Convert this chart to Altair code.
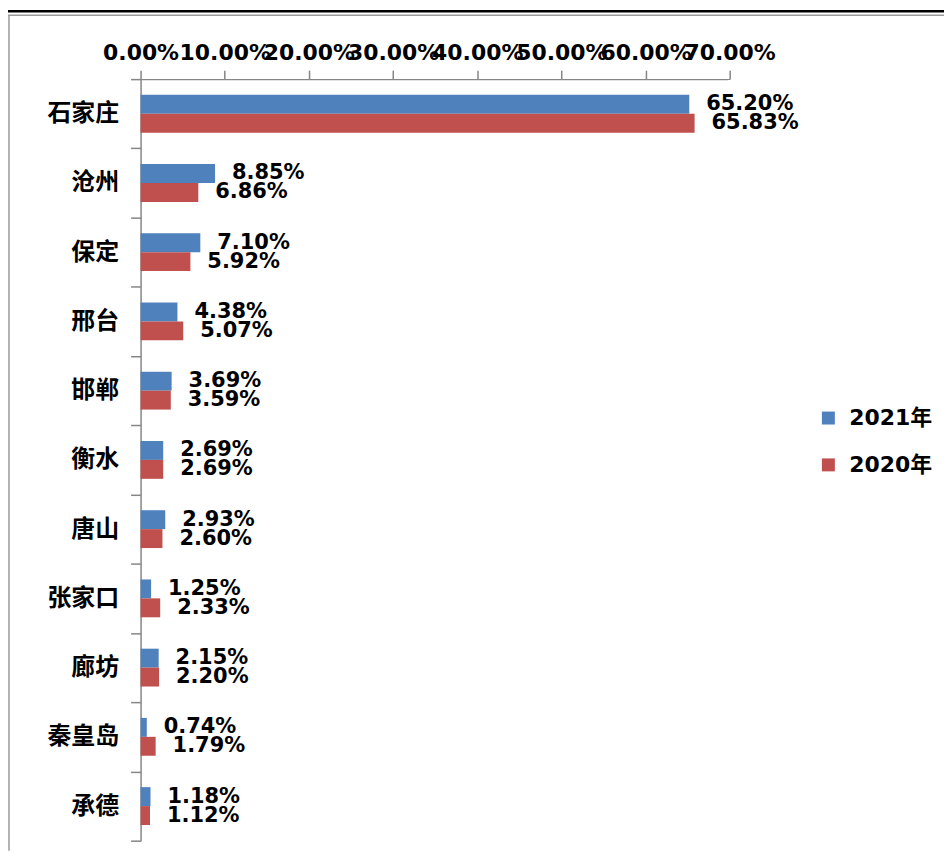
import altair as alt
import pandas as pd

cities = ["石家庄", "沧州", "保定", "邢台", "邯郸", "衡水", "唐山", "张家口", "廊坊", "秦皇岛", "承德"]
v2021 = [65.20, 8.85, 7.10, 4.38, 3.69, 2.69, 2.93, 1.25, 2.15, 0.74, 1.18]
v2020 = [65.83, 6.86, 5.92, 5.07, 3.59, 2.69, 2.60, 2.33, 2.20, 1.79, 1.12]
series = ["2021年", "2020年"]
colors = ["#4F81BD", "#C0504D"]
x_ticks = [0, 10, 20, 30, 40, 50, 60, 70]

rows = []
for c, a, b in zip(cities, v2021, v2020):
    rows.append({"city": c, "series": series[0], "value": a})
    rows.append({"city": c, "series": series[1], "value": b})
df = pd.DataFrame(rows)

NUM_FONT = "DejaVu Sans"
CJK_FONT = "Noto Sans CJK SC"
AXIS_GRAY = "#868686"

base = alt.Chart(df).encode(
    y=alt.Y(
        "city:N",
        sort=cities,
        title=None,
        scale=alt.Scale(paddingInner=0, paddingOuter=0),
        axis=alt.Axis(
            tickBand="extent",
            labelFont=CJK_FONT,
            labelFontSize=24,
            labelFontWeight="bold",
            labelColor="#000000",
            labelPadding=12,
            tickSize=10,
            tickColor=AXIS_GRAY,
            tickWidth=1.5,
            domainColor=AXIS_GRAY,
            domainWidth=1.5,
            grid=False,
        ),
    ),
    yOffset=alt.YOffset(
        "series:N",
        sort=series,
        scale=alt.Scale(paddingInner=0, paddingOuter=0.83),
    ),
)

x_axis = alt.Axis(
    orient="top",
    values=x_ticks,
    labelExpr="format(datum.value / 100, '.2%')",
    labelFont=NUM_FONT,
    labelFontSize=22,
    labelFontWeight="bold",
    labelColor="#000000",
    labelOverlap=False,
    labelFlush=False,
    labelPadding=6,
    tickSize=9,
    tickColor=AXIS_GRAY,
    tickWidth=1.5,
    domainColor=AXIS_GRAY,
    domainWidth=1.5,
    grid=False,
)
x_scale = alt.Scale(domain=[0, 70], nice=False, zero=True)

bars = base.mark_bar().encode(
    x=alt.X("value:Q", title=None, scale=x_scale, axis=x_axis),
    color=alt.Color(
        "series:N",
        sort=series,
        scale=alt.Scale(domain=series, range=colors),
        legend=alt.Legend(
            title=None,
            orient="none",
            legendX=679,
            legendY=329,
            symbolType="square",
            symbolSize=169,
            symbolStrokeWidth=0,
            labelFont=NUM_FONT + ", " + CJK_FONT,
            labelFontSize=22,
            labelFontWeight="bold",
            labelColor="#000000",
            rowPadding=25,
            labelOffset=10,
            padding=0,
        ),
    ),
)

labels = base.mark_text(
    align="left",
    baseline="middle",
    dx=17,
    font=NUM_FONT,
    fontSize=21,
    fontWeight="bold",
    color="#000000",
).transform_calculate(
    label="format(datum.value, '.2f') + '%'"
).encode(
    x=alt.X("value:Q", title=None, scale=x_scale, axis=x_axis),
    text="label:N",
)

frame_data = alt.Data(values=[{"k": 1}])
top_black = alt.Chart(frame_data).mark_rule(color="#000000", strokeWidth=2.5).encode(
    x=alt.value(-141), x2=alt.value(811), y=alt.value(-68)
)
top_gray = alt.Chart(frame_data).mark_rule(color="#9a9a9a", strokeWidth=1.5).encode(
    x=alt.value(-133), x2=alt.value(811), y=alt.value(-64)
)
left_gray = alt.Chart(frame_data).mark_rule(color="#9a9a9a", strokeWidth=1.5).encode(
    x=alt.value(-132), y=alt.value(-64), y2=alt.value(774)
)
edge_cover = alt.Chart(frame_data).mark_rule(color="#ffffff", strokeWidth=3).encode(
    x=alt.value(591), y=alt.value(1), y2=alt.value(766)
)

chart = (
    alt.layer(top_black, top_gray, left_gray, edge_cover, bars, labels)
    .properties(
        width=591,
        height=764,
        background="#ffffff",
        autosize=alt.AutoSizeParams(type="none"),
        padding={"left": 133, "top": 70, "right": 215, "bottom": 10},
    )
    .configure_view(stroke="transparent", strokeWidth=0)
    .configure_axis(grid=False)
)

chart.save("out.html", embed_options={"renderer": "svg", "actions": False})
